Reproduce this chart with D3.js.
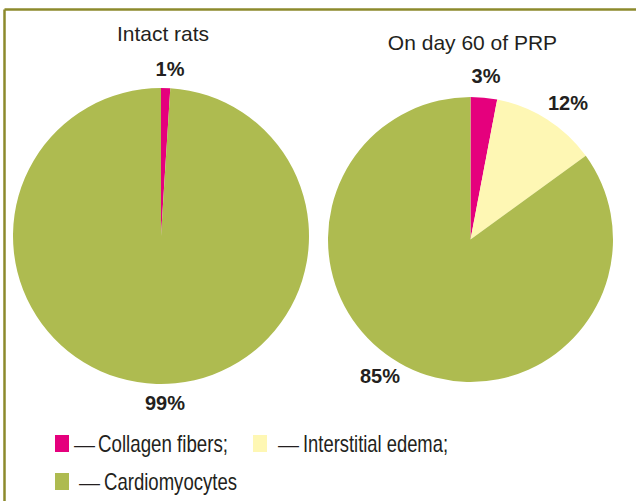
<!DOCTYPE html>
<html lang="en">
<head>
  <meta charset="UTF-8">
  <title>Myocardium composition</title>
  <script src="https://d3js.org/d3.v7.min.js"></script>
  <style>
    body { margin: 0; background: #fff; }
    svg { display: block; font-family: "Liberation Sans", Arial, sans-serif; }
  </style>
</head>
<body>
  <svg id="chart" width="636" height="501"></svg>
  <script>
    // data
    const categories = ["Collagen fibers", "Interstitial edema", "Cardiomyocytes"];
    const intactValues = [1, 0, 99];
    const prpValues = [3, 12, 85];
    const pieTitles = ["Intact rats", "On day 60 of PRP"];
    const intactLabels = ["1%", "", "99%"];
    const prpLabels = ["3%", "12%", "85%"];
    const legendLabels = ["Collagen fibers;", "Interstitial edema;", "Cardiomyocytes"];

    const color = d3.scaleOrdinal()
      .domain(categories)
      .range(["#e5007d", "#fef7b4", "#aebb50"]);

    const svg = d3.select("#chart");

    // frame (only top and left edges are visible in the crop)
    svg.append("line").attr("x1", 4.5).attr("x2", 636).attr("y1", 9.5).attr("y2", 9.5)
      .attr("stroke", "#8c8a2c").attr("stroke-width", 2.5);
    svg.append("line").attr("x1", 4.5).attr("x2", 4.5).attr("y1", 9.5).attr("y2", 501)
      .attr("stroke", "#8c8a2c").attr("stroke-width", 2.5);

    const pie = d3.pie().sort(null).value(d => d.value);

    const charts = [
      { values: intactValues, labels: intactLabels, title: pieTitles[0], cx: 161, cy: 236, r: 148,
        titleY: 41, labelPos: [[170, 76], null, [165, 410]] },
      { values: prpValues, labels: prpLabels, title: pieTitles[1], cx: 470.5, cy: 239.5, r: 142.5,
        titleY: 50, labelPos: [[486, 83], [568, 110], [380, 383]] }
    ];

    charts.forEach(c => {
      const data = categories.map((k, i) => ({ key: k, value: c.values[i], label: c.labels[i], pos: c.labelPos[i] }));
      const arcs = pie(data);
      const arc = d3.arc().innerRadius(0).outerRadius(c.r);
      const g = svg.append("g").attr("transform", `translate(${c.cx},${c.cy})`);
      g.selectAll("path")
        .data(arcs.filter(a => a.data.value > 0))
        .enter().append("path")
        .attr("d", arc)
        .attr("fill", d => color(d.data.key));

      svg.append("text")
        .attr("x", c.cx + 2)
        .attr("y", c.titleY)
        .attr("text-anchor", "middle")
        .attr("font-size", 21)
        .attr("fill", "#231f20")
        .text(c.title);

      svg.selectAll(null)
        .data(data.filter(d => d.label))
        .enter().append("text")
        .attr("x", d => d.pos[0])
        .attr("y", d => d.pos[1])
        .attr("text-anchor", "middle")
        .attr("font-size", 20)
        .attr("font-weight", "bold")
        .attr("fill", "#231f20")
        .text(d => d.label);
    });

    // legend
    const legendItems = [
      { sx: 55, sy: 435, dx: 74, tx: 98, ty: 452, w: 130 },
      { sx: 253, sy: 435, dx: 278, tx: 303, ty: 452, w: 145 },
      { sx: 55, sy: 473, dx: 79, tx: 104, ty: 490, w: 133 }
    ];
    const legend = svg.append("g");
    legendItems.forEach((p, i) => {
      legend.append("rect")
        .attr("x", p.sx).attr("y", p.sy)
        .attr("width", 14).attr("height", 17)
        .attr("fill", color(categories[i]));
      legend.append("text")
        .attr("x", p.dx).attr("y", p.ty)
        .attr("font-size", 21)
        .attr("fill", "#231f20")
        .text("\u2014");
      legend.append("text")
        .attr("x", p.tx).attr("y", p.ty)
        .attr("font-size", 24)
        .attr("fill", "#231f20")
        .attr("textLength", p.w)
        .attr("lengthAdjust", "spacingAndGlyphs")
        .text(legendLabels[i]);
    });
  </script>
</body>
</html>
